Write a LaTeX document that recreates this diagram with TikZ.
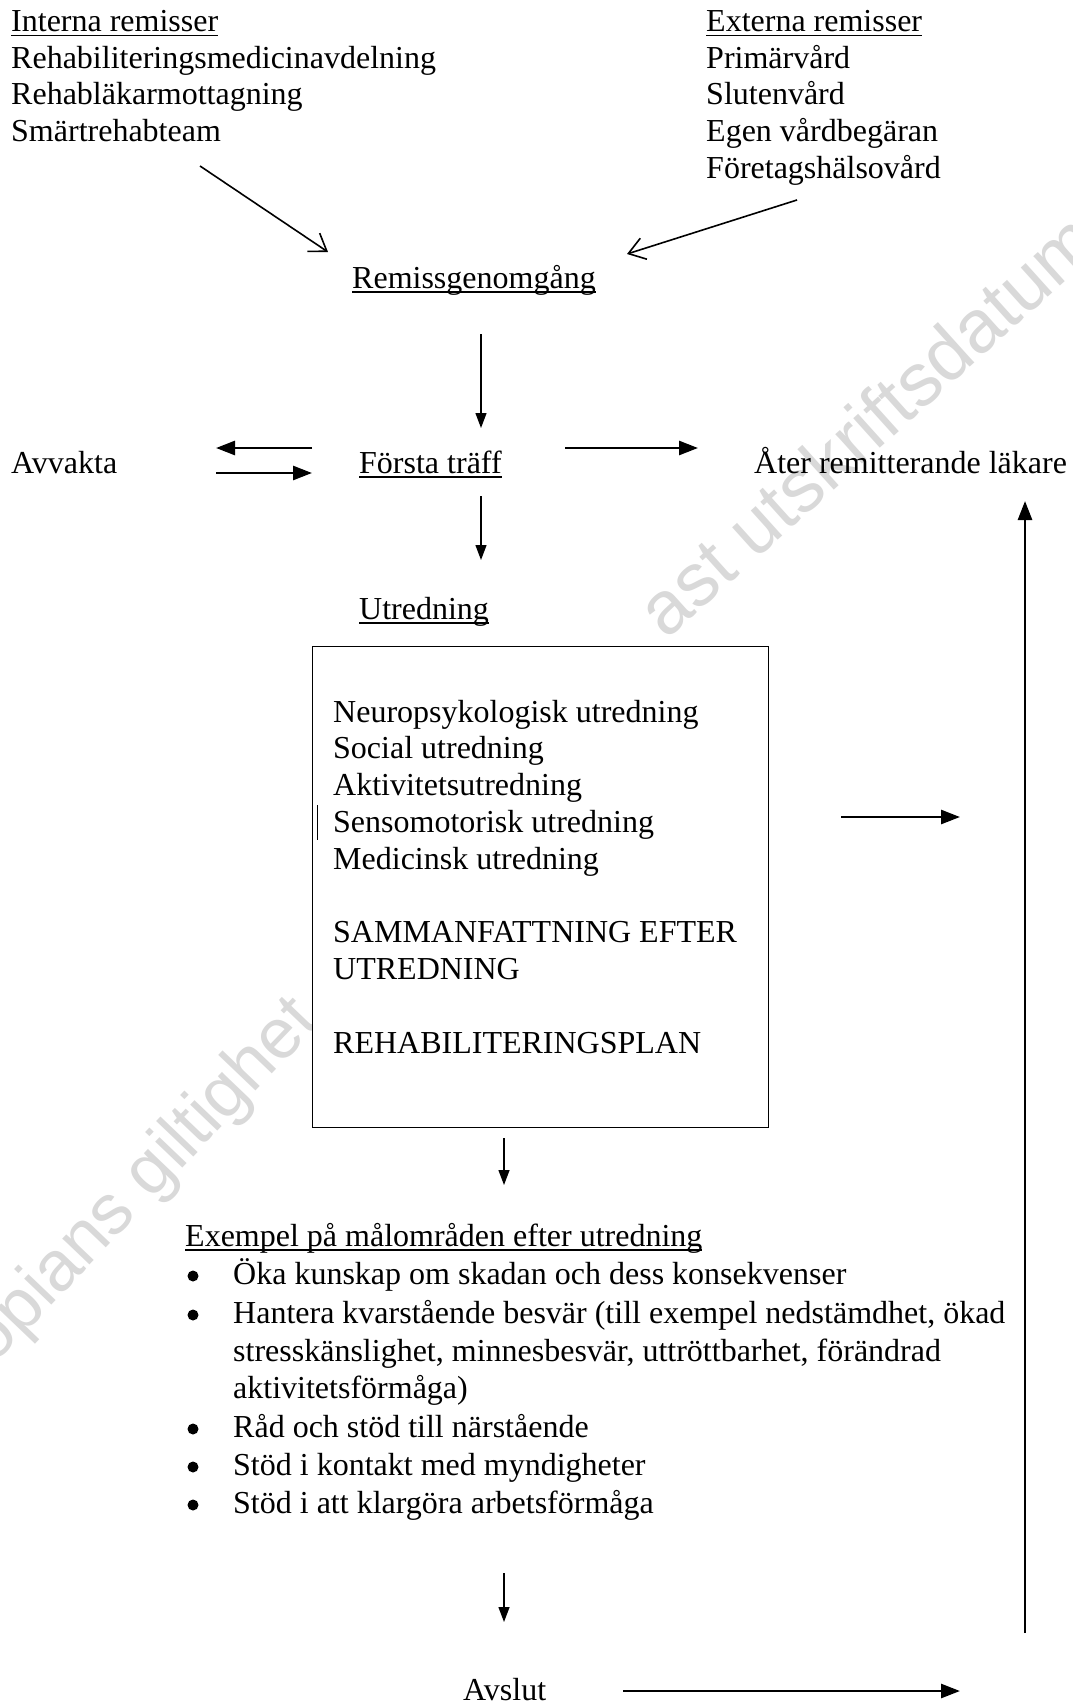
\documentclass[tikz,border=0pt]{standalone}
\usepackage{fontspec}
\setmainfont{Liberation Serif}
\newfontfamily\wmfont{Liberation Sans}
\usetikzlibrary{arrows.meta}
\definecolor{wmgray}{RGB}{217,217,217}
\newcommand\ulx[1]{\setbox0=\hbox{#1}\rlap{\vrule height -3pt depth 4.8pt width \wd0}\box0}
\begin{document}
\begin{tikzpicture}[x=1pt,y=-1pt,
  txt/.style={anchor=base west, inner sep=0pt, font=\fontsize{32pt}{36.8pt}\selectfont},
  bul/.style={circle, fill=black, inner sep=0pt, minimum size=11pt},
  wm/.style={anchor=base west, inner sep=0pt, text=wmgray, font=\wmfont\fontsize{75pt}{80pt}\selectfont},
  thinarr/.style={line width=1.3pt, -{Triangle[length=15pt,width=11pt]}},
  thickarr/.style={line width=2.7pt, -{Triangle[length=19pt,width=14pt]}},
  barbarr/.style={line width=1.6pt, -{Straight Barb[length=16pt,width=22pt]}},
  boxstyle/.style={draw, line width=1.3pt, fill=white, inner sep=0pt, anchor=north west}
]
\useasboundingbox (0,0) rectangle (1072,1704);
\fill[white] (0,0) rectangle (1072,1704);

% watermark
\node[wm, rotate=46.3, font=\wmfont\fontsize{71pt}{76pt}\selectfont] (wm1) at (-39,1400) {Kopians giltighet};
\node[wm, rotate=42] (wm2) at (666,641) {ast utskriftsdatum};

% top blocks
\node[txt] (intH) at (11,31.7) {\ulx{Interna remisser}};
\node[txt] (int1) at (11,68.3) {Rehabiliteringsmedicinavdelning};
\node[txt] (int2) at (11,105) {Rehabläkarmottagning};
\node[txt] (int3) at (11,141.7) {Smärtrehabteam};
\node[txt] (extH) at (706,31.7) {\ulx{Externa remisser}};
\node[txt] (ext1) at (706,68.3) {Primärvård};
\node[txt] (ext2) at (706,105) {Slutenvård};
\node[txt] (ext3) at (706,141.7) {Egen vårdbegäran};
\node[txt] (ext4) at (706,178.3) {Företagshälsovård};

\node[txt] (remiss) at (352,288) {\ulx{Remissgenomgång}};
\node[txt] (avvakta) at (11,473) {Avvakta};
\node[txt] (forsta) at (359,473) {\ulx{Första träff}};
\node[txt] (ater) at (754,473) {Åter remitterande läkare};
\node[txt] (utr) at (359,619) {\ulx{Utredning}};

% box
\node[boxstyle, minimum width=456pt, minimum height=481pt] (box) at (312,646) {};
\draw[line width=0.9pt] (317,805) -- (317,840);
\node[txt] (b1) at (333,722) {Neuropsykologisk utredning};
\node[txt] (b2) at (333,758.8) {Social utredning};
\node[txt] (b3) at (333,795.6) {Aktivitetsutredning};
\node[txt] (b4) at (333,832.4) {Sensomotorisk utredning};
\node[txt] (b5) at (333,869.2) {Medicinsk utredning};
\node[txt] (b6) at (333,942.8) {SAMMANFATTNING EFTER};
\node[txt] (b7) at (333,979.6) {UTREDNING};
\node[txt] (b8) at (333,1053.2) {REHABILITERINGSPLAN};

% list
\node[txt] (ex) at (185,1246) {\ulx{Exempel på målområden efter utredning}};
\node[bul] (d1) at (193,1276) {};
\node[txt] (l1) at (233,1284) {Öka kunskap om skadan och dess konsekvenser};
\node[bul] (d2) at (193,1315) {};
\node[txt] (l2a) at (233,1323) {Hantera kvarstående besvär (till exempel nedstämdhet, ökad};
\node[txt] (l2b) at (233,1361) {stresskänslighet, minnesbesvär, uttröttbarhet, förändrad};
\node[txt] (l2c) at (233,1398) {aktivitetsförmåga)};
\node[bul] (d3) at (193,1429) {};
\node[txt] (l3) at (233,1437) {Råd och stöd till närstående};
\node[bul] (d4) at (193,1467) {};
\node[txt] (l4) at (233,1475) {Stöd i kontakt med myndigheter};
\node[bul] (d5) at (193,1505) {};
\node[txt] (l5) at (233,1513) {Stöd i att klargöra arbetsförmåga};

\node[txt] (avslut) at (463,1700) {Avslut};

% connector end points
\coordinate (a1s) at (200,166);  \coordinate (a1e) at (328,252);
\coordinate (a2s) at (797,200);  \coordinate (a2e) at (627,254);
\coordinate (a3s) at (481,334);  \coordinate (a3e) at (481,428);
\coordinate (a4s) at (312,448);  \coordinate (a4e) at (216,448);
\coordinate (a5s) at (216,473);  \coordinate (a5e) at (312,473);
\coordinate (a6s) at (565,448);  \coordinate (a6e) at (698,448);
\coordinate (a7s) at (481,496);  \coordinate (a7e) at (481,560);
\coordinate (a8s) at (841,817);  \coordinate (a8e) at (960,817);
\coordinate (a9s) at (1025,1633); \coordinate (a9e) at (1025,501);
\coordinate (a10s) at (504,1138); \coordinate (a10e) at (504,1185);
\coordinate (a11s) at (504,1573); \coordinate (a11e) at (504,1622);
\coordinate (a12s) at (623,1691); \coordinate (a12e) at (960,1691);

\draw[barbarr] (a1s) -- (a1e);
\draw[barbarr] (a2s) -- (a2e);
\draw[thinarr] (a3s) -- (a3e);
\draw[thickarr] (a4s) -- (a4e);
\draw[thickarr] (a5s) -- (a5e);
\draw[thickarr] (a6s) -- (a6e);
\draw[thinarr] (a7s) -- (a7e);
\draw[thickarr] (a8s) -- (a8e);
\draw[thickarr] (a9s) -- (a9e);
\draw[thinarr] (a10s) -- (a10e);
\draw[thinarr] (a11s) -- (a11e);
\draw[thickarr] (a12s) -- (a12e);
\end{tikzpicture}
\end{document}
